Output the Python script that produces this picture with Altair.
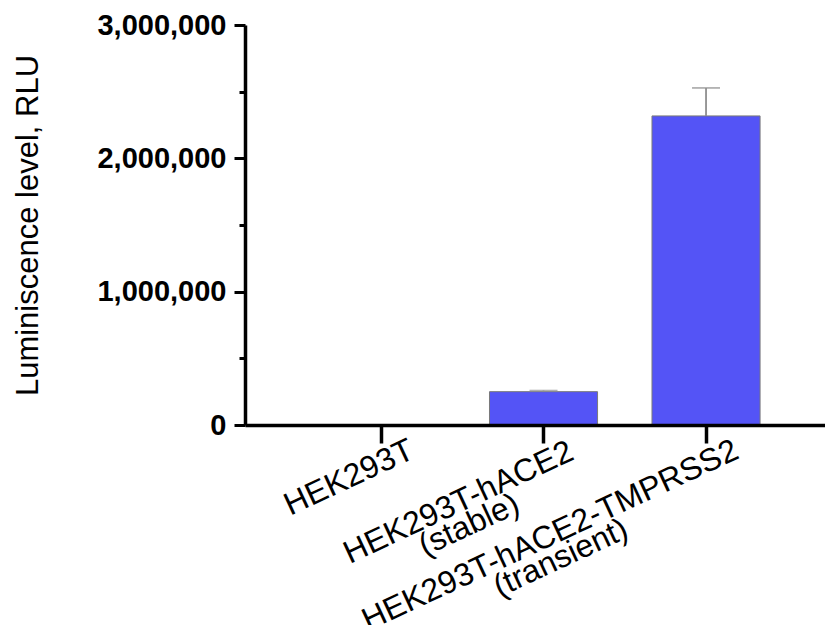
import altair as alt
import pandas as pd

FONT = "Liberation Sans"

categories = ["HEK293T", "HEK293T-hACE2|(stable)", "HEK293T-hACE2-TMPRSS2|(transient)"]
means = [1500, 250000, 2318000]
errors = [0, 8000, 210000]
y_ticks = [0, 250000, 500000, 750000, 1000000, 1250000, 1500000, 1750000,
           2000000, 2250000, 2500000, 2750000, 3000000]

df = pd.DataFrame({"cell": categories, "mean": means, "err": errors})
df["upper"] = df["mean"] + df["err"]

rows = []
for c in categories:
    parts = c.split("|")
    for i, p in enumerate(parts):
        rows.append({"cell": c, "text": p, "line": i, "first": parts[0]})
lab = pd.DataFrame(rows)

xscale = alt.Scale(paddingInner=0.335, paddingOuter=0.452, align=0.558)
xaxis = alt.Axis(title=None, labels=False, tickSize=18, tickWidth=3.5, tickColor="black",
                 domainWidth=3.5, domainColor="black", zindex=1)
yaxis = alt.Axis(
    title="Luminiscence level, RLU", values=y_ticks,
    labelExpr="datum.value % 1000000 == 0 ? format(datum.value, ',') : ''",
    tickSize=alt.condition("datum.value % 1000000 == 0", alt.value(11), alt.value(6)),
    tickWidth=3, tickColor="black", domainWidth=3.5, domainColor="black",
    labelFont=FONT, labelFontSize=29, labelFontWeight="bold", labelColor="black",
    labelPadding=8, labelFlush=False, labelOverlap=False,
    titleFont=FONT, titleFontSize=31, titleFontWeight="normal", titleColor="black",
    titlePadding=52, grid=False, zindex=1,
)

base = alt.Chart(df)
x = alt.X("cell:N", sort=categories, scale=xscale, axis=xaxis)
y = alt.Y("mean:Q", scale=alt.Scale(domain=[0, 3000000], nice=False, zero=True), axis=yaxis)

bars = base.mark_bar(color="#5454F6", stroke="#7a7a7a", strokeWidth=1).encode(x=x, y=y)
err = base.transform_filter("datum.err > 0").mark_rule(color="#8f8f8f", strokeWidth=1.8).encode(
    x=x, y="mean:Q", y2="upper:Q")
cap = base.transform_filter("datum.err > 0").mark_tick(color="#8f8f8f", thickness=1.8, size=28).encode(
    x=x, y="upper:Q")

labels = alt.Chart(lab).mark_text(
    angle=335, align="center", baseline="top", font=FONT, fontSize=32, color="black",
    dx=alt.ExprRef(expr="26 - length(datum.first) * 0.61 * 32 / 2"),
    dy=alt.ExprRef(expr="datum.line * 25"),
).encode(x=x, y=alt.value(421), text="text:N")

chart = alt.layer(bars, err, cap, labels).properties(
    width=580, height=400,
    padding={"left": 237, "top": 17, "right": 0, "bottom": 200},
    autosize=alt.AutoSizeParams(type="none"),
    background="white",
).configure_view(stroke=None)

chart.save("out.html", embed_options={"renderer": "svg", "actions": False})
